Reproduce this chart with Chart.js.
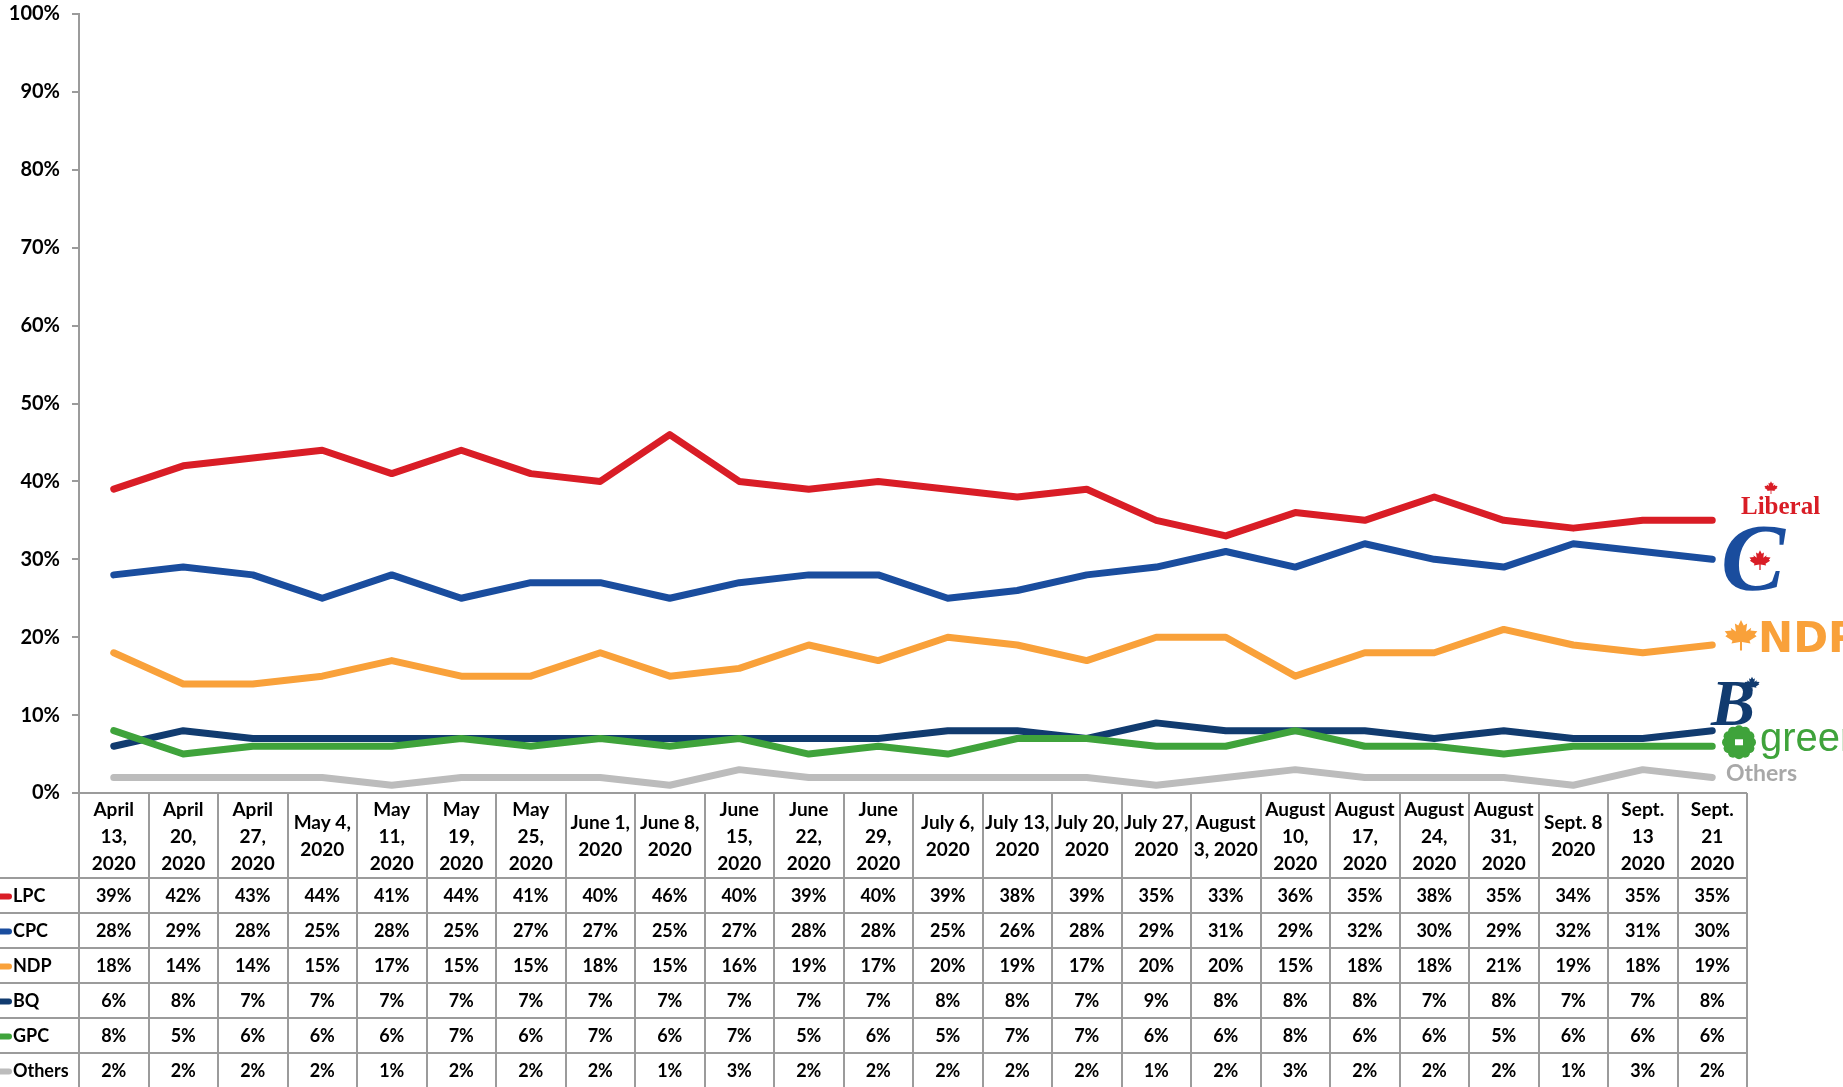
<!DOCTYPE html>
<html>
<head>
<meta charset="utf-8">
<script src="https://cdn.jsdelivr.net/npm/chart.js@4.4.1/dist/chart.umd.min.js"></script>
<style>
  html, body { margin: 0; padding: 0; background: #fff; }
  #wrap { width: 1843px; height: 1087px; }
</style>
</head>
<body>
<div id="wrap"><canvas id="poll" width="1843" height="1087"></canvas></div>
<script>
// poll dates, one array of header lines per column
const dates = [
  ['April', '13,', '2020'], ['April', '20,', '2020'], ['April', '27,', '2020'],
  ['May 4,', '2020'], ['May', '11,', '2020'], ['May', '19,', '2020'], ['May', '25,', '2020'],
  ['June 1,', '2020'], ['June 8,', '2020'], ['June', '15,', '2020'], ['June', '22,', '2020'],
  ['June', '29,', '2020'], ['July 6,', '2020'], ['July 13,', '2020'], ['July 20,', '2020'],
  ['July 27,', '2020'], ['August', '3, 2020'], ['August', '10,', '2020'], ['August', '17,', '2020'],
  ['August', '24,', '2020'], ['August', '31,', '2020'], ['Sept. 8', '2020'],
  ['Sept.', '13', '2020'], ['Sept.', '21', '2020']
];

const parties = ['LPC', 'CPC', 'NDP', 'BQ', 'GPC', 'Others'];
const partyColors = ['#d91d26', '#1a4d9e', '#f9a13a', '#113b6f', '#3fa33b', '#bcbcbc'];

const lpc    = [39, 42, 43, 44, 41, 44, 41, 40, 46, 40, 39, 40, 39, 38, 39, 35, 33, 36, 35, 38, 35, 34, 35, 35];
const cpc    = [28, 29, 28, 25, 28, 25, 27, 27, 25, 27, 28, 28, 25, 26, 28, 29, 31, 29, 32, 30, 29, 32, 31, 30];
const ndp    = [18, 14, 14, 15, 17, 15, 15, 18, 15, 16, 19, 17, 20, 19, 17, 20, 20, 15, 18, 18, 21, 19, 18, 19];
const bq     = [6, 8, 7, 7, 7, 7, 7, 7, 7, 7, 7, 7, 8, 8, 7, 9, 8, 8, 8, 7, 8, 7, 7, 8];
const gpc    = [8, 5, 6, 6, 6, 7, 6, 7, 6, 7, 5, 6, 5, 7, 7, 6, 6, 8, 6, 6, 5, 6, 6, 6];
const others = [2, 2, 2, 2, 1, 2, 2, 2, 1, 3, 2, 2, 2, 2, 2, 1, 2, 3, 2, 2, 2, 1, 3, 2];

const seriesData = [lpc, cpc, ndp, bq, gpc, others];

const FONT = 'Lato, "Open Sans", sans-serif';
const GRID = '#9b9b9b';

// small maple leaf, used in a few of the party logos
function leaf(ctx, cx, cy, r, color) {
  const p = [[0,-1],[0.16,-0.68],[0.36,-0.8],[0.3,-0.32],[0.6,-0.55],[0.56,-0.38],[0.96,-0.34],
    [0.8,-0.14],[0.92,-0.04],[0.5,0.22],[0.56,0.38],[0.06,0.3],[0.06,0.8],[-0.06,0.8],[-0.06,0.3],
    [-0.56,0.38],[-0.5,0.22],[-0.92,-0.04],[-0.8,-0.14],[-0.96,-0.34],[-0.56,-0.38],[-0.6,-0.55],
    [-0.3,-0.32],[-0.36,-0.8],[-0.16,-0.68]];
  ctx.save();
  ctx.fillStyle = color;
  ctx.beginPath();
  p.forEach((pt, i) => {
    const x = cx + pt[0] * r, y = cy + pt[1] * r;
    if (i === 0) ctx.moveTo(x, y); else ctx.lineTo(x, y);
  });
  ctx.closePath();
  ctx.fill();
  ctx.restore();
}

const tablePlugin = {
  id: 'dataTable',
  afterDraw(chart) {
    const ctx = chart.ctx;
    const xs = chart.scales.x;
    const ys = chart.scales.y;
    const area = chart.chartArea;
    const band = xs.getPixelForValue(1) - xs.getPixelForValue(0);
    const top = area.bottom;
    const headH = 85, rowH = 35;
    const H = chart.height;

    ctx.save();
    ctx.strokeStyle = GRID;
    ctx.lineWidth = 2;
    // column lines
    for (let k = 0; k <= dates.length; k++) {
      const x = Math.round(xs.getPixelForValue(0) - band / 2 + k * band);
      ctx.beginPath();
      ctx.moveTo(x, top);
      ctx.lineTo(x, H);
      ctx.stroke();
    }
    // row lines
    ctx.beginPath();
    ctx.moveTo(area.left, top);
    ctx.lineTo(area.right, top);
    ctx.stroke();
    for (let r = 0; r < parties.length; r++) {
      const y = Math.round(top + headH + r * rowH);
      ctx.beginPath();
      ctx.moveTo(0, y);
      ctx.lineTo(area.right, y);
      ctx.stroke();
    }

    // header
    ctx.fillStyle = '#000';
    ctx.textAlign = 'center';
    ctx.textBaseline = 'middle';
    ctx.font = 'bold 19px ' + FONT;
    dates.forEach((lines, i) => {
      const cx = xs.getPixelForValue(i);
      lines.forEach((t, j) => {
        ctx.fillText(t, cx, top + headH / 2 + 1 + (j - (lines.length - 1) / 2) * 27);
      });
    });

    // rows
    ctx.font = 'bold 18px ' + FONT;
    parties.forEach((name, r) => {
      const cy = top + headH + r * rowH + rowH / 2 + 1;
      ctx.strokeStyle = partyColors[r];
      ctx.lineWidth = 6;
      ctx.lineCap = 'round';
      ctx.beginPath();
      ctx.moveTo(-6, cy);
      ctx.lineTo(9, cy);
      ctx.stroke();
      ctx.fillStyle = '#000';
      ctx.textAlign = 'left';
      ctx.fillText(name, 13, cy);
      ctx.textAlign = 'center';
      seriesData[r].forEach((v, i) => {
        ctx.fillText(v + '%', xs.getPixelForValue(i), cy);
      });
    });

    // party marks at the line ends
    const last = dates.length - 1;
    const lx = area.right;
    ctx.textAlign = 'left';
    ctx.textBaseline = 'alphabetic';

    let y = ys.getPixelForValue(lpc[last]);
    ctx.fillStyle = '#d91d26';
    ctx.font = 'bold 25px "Liberation Serif", serif';
    ctx.fillText('Liberal', lx - 6, y - 6);
    leaf(ctx, lx + 24, y - 32, 7, '#d91d26');

    y = ys.getPixelForValue(cpc[last]);
    ctx.fillStyle = '#1a4d9e';
    ctx.font = 'italic bold 96px "Liberation Serif", serif';
    ctx.fillText('C', lx - 26, y + 31);
    leaf(ctx, lx + 13, y + 2, 11, '#d91d26');

    y = ys.getPixelForValue(ndp[last]);
    leaf(ctx, lx - 6, y - 8, 17, '#f9a13a');
    ctx.fillStyle = '#f9a13a';
    ctx.font = 'bold 42px "DejaVu Sans", sans-serif';
    ctx.fillText('NDP', lx + 11, y + 7);

    y = ys.getPixelForValue(bq[last]);
    ctx.fillStyle = '#113b6f';
    ctx.font = 'italic bold 66px "Liberation Serif", serif';
    ctx.fillText('B', lx - 36, y - 6);
    leaf(ctx, lx + 5, y - 46, 8, '#113b6f');

    y = ys.getPixelForValue(gpc[last]);
    ctx.fillStyle = '#3fa33b';
    const gx = lx - 8, gy = y - 4;
    for (let a = 0; a < 12; a++) {
      const ang = a * Math.PI / 6;
      ctx.beginPath();
      ctx.arc(gx + Math.cos(ang) * 12, gy + Math.sin(ang) * 12, 5, 0, Math.PI * 2);
      ctx.fill();
    }
    ctx.beginPath();
    ctx.arc(gx, gy, 13, 0, Math.PI * 2);
    ctx.fill();
    ctx.fillStyle = '#fff';
    ctx.fillRect(gx - 4, gy - 3, 8, 6);
    ctx.fillStyle = '#3fa33b';
    ctx.font = '40px "Liberation Sans", sans-serif';
    ctx.fillText('green', lx + 13, y + 5);

    y = ys.getPixelForValue(others[last]);
    ctx.fillStyle = '#a8a8a8';
    ctx.font = 'bold 23px ' + FONT;
    ctx.fillText('Others', lx - 21, y + 4);

    ctx.restore();
  }
};

new Chart(document.getElementById('poll'), {
  type: 'line',
  data: {
    labels: dates,
    datasets: parties.map((name, i) => ({
      label: name,
      data: seriesData[i],
      borderColor: partyColors[i],
      backgroundColor: partyColors[i],
      borderWidth: 7,
      borderCapStyle: 'round',
      borderJoinStyle: 'round',
      pointRadius: 0,
      tension: 0,
      fill: false,
      order: parties.length - i
    }))
  },
  options: {
    responsive: false,
    animation: false,
    devicePixelRatio: 1,
    layout: { padding: { top: 14, right: 96, bottom: 294, left: 0 } },
    plugins: {
      legend: { display: false },
      tooltip: { enabled: false }
    },
    scales: {
      x: {
        type: 'category',
        offset: true,
        display: false
      },
      y: {
        min: 0,
        max: 100,
        ticks: {
          stepSize: 10,
          callback: v => v + '%',
          color: '#000',
          padding: 12,
          font: { family: FONT, weight: 'bold', size: 20 }
        },
        grid: { drawOnChartArea: false, drawTicks: true, tickLength: 7, color: GRID, lineWidth: 2 },
        border: { display: true, color: GRID, width: 2 },
        afterFit(scale) {
          scale.width = 79;
          scale.paddingTop = 0;
          scale.paddingBottom = 0;
        }
      }
    }
  },
  plugins: [tablePlugin]
});
</script>
</body>
</html>
